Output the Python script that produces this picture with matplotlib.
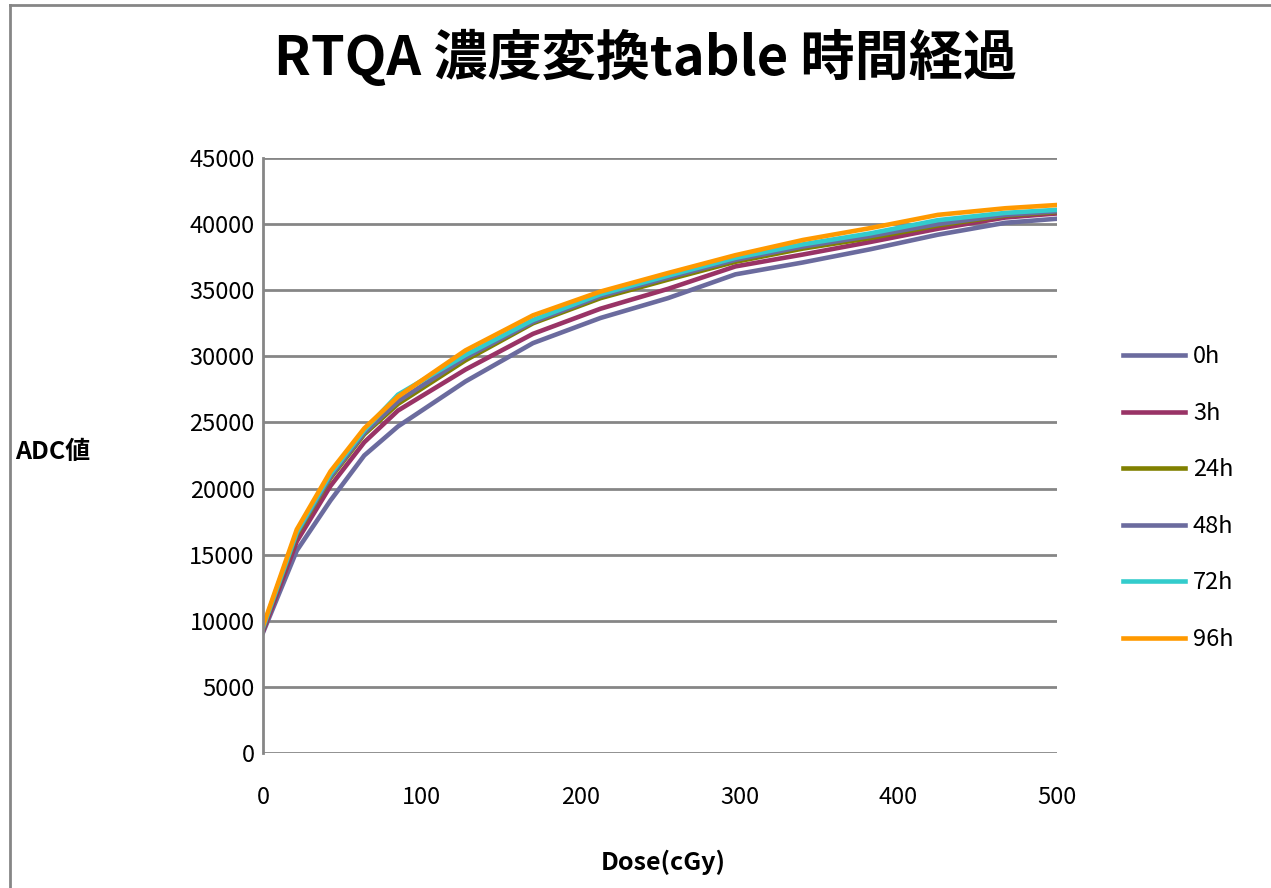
import matplotlib
matplotlib.use("Agg")
import matplotlib.pyplot as plt
from matplotlib.lines import Line2D

plt.rcParams['font.family'] = ['Noto Sans CJK JP', 'DejaVu Sans']

# ---------------------------------------------------------------- data
dose = [0, 21.25, 42.5, 63.75, 85, 127.5, 170, 212.5, 255, 297.5, 340, 382.5, 425, 467.5, 510]
adc_0h = [9100, 15300, 19100, 22500, 24700, 28100, 31000, 32900, 34400, 36200, 37100, 38100, 39200, 40100, 40500]
adc_3h = [9200, 16000, 20200, 23500, 25900, 29000, 31700, 33600, 35100, 36800, 37700, 38650, 39650, 40500, 40900]
adc_24h = [9400, 16500, 20800, 24100, 26400, 29700, 32500, 34400, 35800, 37150, 38150, 38950, 39900, 40650, 41000]
adc_48h = [9400, 16600, 20900, 24200, 26600, 29900, 32600, 34550, 35950, 37300, 38300, 39100, 40000, 40700, 41050]
adc_72h = [9500, 16700, 21100, 24400, 27100, 30100, 32750, 34700, 36100, 37450, 38470, 39300, 40300, 40850, 41150]
adc_96h = [9600, 16900, 21300, 24550, 26950, 30450, 33100, 34900, 36300, 37650, 38800, 39700, 40700, 41200, 41520]

labels = ["0h", "3h", "24h", "48h", "72h", "96h"]
series = [adc_0h, adc_3h, adc_24h, adc_48h, adc_72h, adc_96h]
colors = ["#6B6B9E", "#993366", "#808000", "#6B6B9E", "#33CCCC", "#FF9900"]

x_ticks = [0, 100, 200, 300, 400, 500]
y_ticks = list(range(0, 45001, 5000))

# ---------------------------------------------------------------- figure
fig = plt.figure(figsize=(12.71, 8.88), dpi=100)
ax = fig.add_axes([263 / 1271, 1 - 753 / 888, (1057 - 263) / 1271, (753 - 158) / 888])

for ys, lab, c in zip(series, labels, colors):
    ax.plot(dose, ys, color=c, lw=3.3, label=lab, solid_joinstyle="miter")

ax.set_xlim(0, 500)
ax.set_ylim(0, 45000)
ax.set_xticks(x_ticks)
ax.set_yticks(y_ticks)
ax.tick_params(axis="both", labelsize=17, length=0, colors="#000000")
ax.tick_params(axis="x", pad=24)
ax.tick_params(axis="y", pad=6)
ax.grid(axis="y", color="#868686", linewidth=2)
ax.set_axisbelow(True)
for side in ["top", "right", "bottom"]:
    ax.spines[side].set_visible(False)
ax.spines["left"].set_color("#868686")
ax.spines["left"].set_linewidth(2)

# axis titles
fig.text(15 / 1271, 1 - 452 / 888, "ADC値", fontsize=18, fontweight="bold",
         ha="left", va="center")
fig.text(663 / 1271, 1 - 862 / 888, "Dose(cGy)", fontsize=18, fontweight="bold",
         ha="center", va="center")

# title
fig.text(645 / 1271, 1 - 58 / 888, "RTQA 濃度変換table 時間経過", fontsize=39,
         fontweight="bold", ha="center", va="center")

# legend
fig.legend(loc="upper left", bbox_to_anchor=(1102 / 1271, 1 - 324 / 888),
           frameon=False, fontsize=17, handlelength=2.6, handletextpad=0.35,
           labelspacing=1.42)

# chart-area border (partially visible, as in the cropped screenshot)
fig.add_artist(Line2D([10 / 1271, 1], [1 - 5 / 888, 1 - 5 / 888],
                      transform=fig.transFigure, color="#868686", lw=2))
fig.add_artist(Line2D([10 / 1271, 10 / 1271], [0, 1 - 5 / 888],
                      transform=fig.transFigure, color="#868686", lw=2))

fig.savefig("out.png", dpi=100, facecolor="white")
